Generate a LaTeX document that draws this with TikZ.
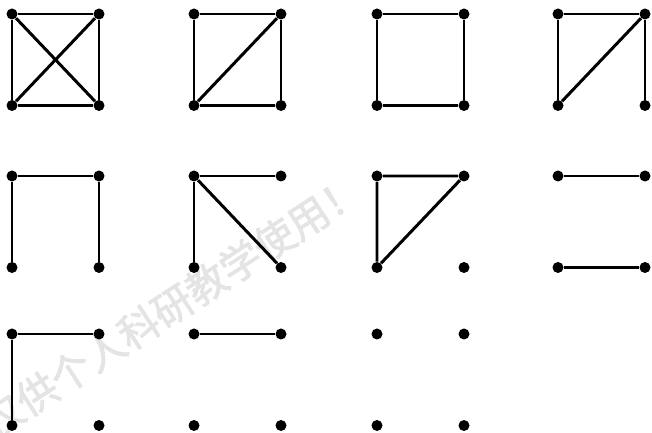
\documentclass[tikz,border=0pt]{standalone}
\usepackage{fontspec}
\usepackage{tikz}
\usepackage{xcolor}
\newfontfamily\cjk[FakeBold=2]{Noto Sans CJK SC}
\definecolor{MarkGray}{HTML}{E4E4E4}

\begin{document}
\begin{tikzpicture}[vtx/.style={circle, fill=black, inner sep=0pt, minimum size=0.22cm},
                    link/.style={line width=1.7pt, line join=round}]
        \useasboundingbox (0,0) rectangle (13.04,8.66);
        % watermark
        \node[rotate=33, text=MarkGray, font=\cjk\fontsize{23}{23}\selectfont, inner sep=0pt] (mark) at (3.45,2.55) {仅供个人科研教学使用！};
        % four vertices per graph
        \foreach \g/\x/\y in {1/0.24/8.38, 2/3.88/8.38, 3/7.54/8.38, 4/11.16/8.38,
                              5/0.24/5.14, 6/3.88/5.14, 7/7.54/5.14, 8/11.16/5.14,
                              9/0.24/1.98, 10/3.88/1.98, 11/7.54/1.98} {
          \node[vtx] (g\g-tl) at (\x,\y) {};
          \node[vtx] (g\g-tr) at (\x+1.74,\y) {};
          \node[vtx] (g\g-bl) at (\x,\y-1.83) {};
          \node[vtx] (g\g-br) at (\x+1.74,\y-1.83) {};
        }
        % row 1
        \draw[link] (g1-tl) -- (g1-tr) -- (g1-br) -- (g1-bl) -- (g1-tl);
        \draw[link] (g1-tl) -- (g1-br);
        \draw[link] (g1-bl) -- (g1-tr);
        \draw[link] (g2-tl) -- (g2-tr) -- (g2-br) -- (g2-bl) -- (g2-tl);
        \draw[link] (g2-bl) -- (g2-tr);
        \draw[link] (g3-tl) -- (g3-tr) -- (g3-br) -- (g3-bl) -- (g3-tl);
        \draw[link] (g4-bl) -- (g4-tl) -- (g4-tr) -- (g4-br);
        \draw[link] (g4-bl) -- (g4-tr);
        % row 2
        \draw[link] (g5-bl) -- (g5-tl) -- (g5-tr) -- (g5-br);
        \draw[link] (g6-bl) -- (g6-tl) -- (g6-tr);
        \draw[link] (g6-tl) -- (g6-br);
        \draw[link] (g7-tl) -- (g7-tr) -- (g7-bl) -- (g7-tl);
        \draw[link] (g8-tl) -- (g8-tr);
        \draw[link] (g8-bl) -- (g8-br);
        % row 3
        \draw[link] (g9-bl) -- (g9-tl) -- (g9-tr);
        \draw[link] (g10-tl) -- (g10-tr);
      \end{tikzpicture}
\end{document}
